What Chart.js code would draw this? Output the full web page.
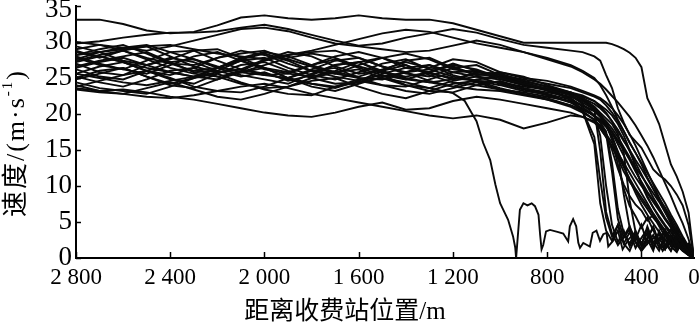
<!DOCTYPE html>
<html><head><meta charset="utf-8">
<script src="https://cdn.jsdelivr.net/npm/chart.js@4.4.1/dist/chart.umd.min.js"></script>
<style>html,body{margin:0;padding:0;background:#fff}</style>
</head><body>
<canvas id="c" width="700" height="327"></canvas>
<script>
// distance to toll station (axis units, m); the right end of the axis is labelled "0"
const dist = [2800,2700,2600,2500,2400,2300,2200,2100,2000,1900,1800,1700,1600,1500,1400,1300,1200,1100,1000,900,800,700,
              650,600,575,550,525,500,475,450,425,400,375,350,325,300,275,250,225,200,177];
const xTickPos = [2800,2400,2000,1600,1200,800,400,177];
const xTickLabels = ['2 800','2 400','2 000','1 600','1 200','800','400','0'];
const yTicks = [0,5,10,15,20,25,30,35];

// speed trajectories (m/s)
const T1 = [33.1,33.1,32.5,31.6,31.2,31.4,32.3,33.4,33.7,33.3,33.1,33.3,33.7,33.3,33.1,33.1,32.6,31.7,30.8,29.9,29.9,29.9,
            29.9,29.9,29.9,29.9,29.7,29.4,29.0,28.5,27.8,26.5,22.2,20.5,18.6,15.8,13.0,11.3,9.2,6.3,0];
const T2 = [29.8,30.1,30.6,31.0,31.3,31.3,31.5,32.0,32.4,31.8,31.0,30.2,29.5,29.8,30.6,31.2,31.8,31.3,30.4,29.6,29.2,28.8,
            28.6,28.0,27.4,25.4,23.6,20.8,18.8,17.1,16.2,15.3,13.8,12.3,11.5,10.9,10.0,8.8,7.3,4.6,0];
const T3 = [30.0,29.6,29.2,28.8,29.4,30.2,31.0,31.8,32.0,31.5,30.6,29.8,29.4,29.0,28.6,28.8,29.5,30.2,29.6,28.6,27.6,26.6,
            25.8,24.8,24.2,23.4,22.5,21.6,20.6,19.6,18.4,17.0,15.6,14.0,12.2,10.4,8.6,6.6,4.8,2.6,0];
const T4 = [28.2,28.6,29.0,29.4,29.6,29.0,28.4,28.0,27.6,28.2,28.8,29.6,30.4,31.2,31.7,31.4,30.6,29.8,29.2,28.6,27.8,26.8,
            26.0,25.0,24.0,22.6,21.0,19.2,17.6,16.0,14.6,13.2,11.8,10.4,9.0,7.6,6.0,4.6,3.0,1.6,0];
const B1 = [29.4,28.6,27.4,26.8,27.6,28.8,29.0,27.8,26.4,25.8,26.8,28.0,28.6,27.8,26.4,25.8,26.8,26.2,25.0,24.2,23.6,23.0,
            22.6,21.8,21.0,20.2,19.0,17.6,16.2,15.0,13.6,12.4,11.0,9.6,8.2,7.0,5.6,4.2,2.8,1.4,0];
const B2 = [28.8,27.8,28.8,29.4,28.0,26.6,25.8,26.2,27.6,28.6,28.0,26.6,25.6,26.0,27.4,27.8,26.4,25.4,25.6,24.4,23.4,22.6,
            21.4,19.8,17.0,10.0,4.6,2.2,3.8,1.6,3.2,2.0,3.6,1.4,2.8,1.2,3.0,1.0,2.2,0.6,0];
const B3 = [28.2,29.0,29.6,28.4,27.0,26.0,26.4,27.8,28.6,28.0,26.8,25.8,25.2,26.2,27.2,26.4,27.6,27.2,25.8,25.2,24.0,23.0,
            22.2,21.0,20.2,19.4,18.6,17.2,14.6,8.0,3.6,2.0,3.4,1.6,2.6,4.0,1.8,2.4,1.0,1.8,0];
const B4 = [27.8,26.8,26.2,27.4,28.6,28.8,27.4,26.2,25.4,25.0,26.2,27.4,27.8,26.6,25.6,25.2,26.4,26.8,25.4,24.6,23.8,22.6,
            21.8,20.8,20.0,18.8,17.4,15.8,14.2,12.6,11.2,10.0,9.0,7.8,6.6,5.4,4.4,3.2,2.0,1.0,0];
const B5 = [27.4,28.2,28.8,27.6,26.4,25.6,25.2,25.8,26.8,27.8,28.4,27.8,26.6,25.8,25.2,25.8,24.8,25.6,25.0,24.2,23.4,22.0,
            20.4,16.8,10.8,5.6,3.0,4.6,2.0,3.6,1.4,2.8,4.0,2.0,3.4,1.6,2.6,4.2,1.4,2.0,0];
const B6 = [27.0,25.8,25.4,26.8,27.8,27.2,26.0,25.2,25.8,24.6,25.4,26.8,27.2,26.0,25.0,24.4,24.8,25.8,25.6,24.6,23.8,22.8,
            22.0,21.0,20.0,18.6,16.4,13.0,9.6,7.2,5.8,4.2,5.6,3.8,2.4,3.6,2.0,1.2,2.4,1.0,0];
const B7 = [26.6,27.4,28.0,28.6,27.2,25.8,26.0,27.4,27.8,26.4,25.4,24.8,25.8,27.0,27.6,26.2,25.2,24.6,24.4,23.6,23.0,22.4,
            21.6,20.6,19.8,19.0,18.0,16.8,15.4,14.0,12.2,10.4,8.6,7.0,5.6,4.4,3.2,2.2,1.4,0.6,0];
const B8 = [26.2,25.2,24.8,26.0,27.2,27.6,26.4,25.4,24.8,24.2,25.6,26.8,27.2,25.8,24.8,24.4,23.8,24.8,25.2,24.4,23.4,22.2,
            20.4,15.8,7.6,3.8,2.4,4.6,2.0,1.0,3.0,1.8,4.4,2.2,1.0,3.2,1.6,0.8,2.6,1.2,0];
const B9 = [25.6,26.6,27.2,26.0,24.8,24.2,25.6,26.8,27.2,26.0,25.0,24.2,24.4,25.6,26.4,26.8,25.4,24.6,24.0,23.2,22.8,22.0,
            21.2,20.4,19.6,18.6,17.6,16.4,15.2,13.8,12.6,11.4,10.2,9.0,7.8,6.4,5.0,3.6,2.2,1.0,0];
const B10 = [25.2,24.4,23.8,24.8,26.0,26.4,25.2,24.2,23.6,23.8,25.0,25.8,26.2,25.0,24.0,23.6,24.6,25.2,24.2,23.4,22.6,21.6,
             20.8,19.8,18.8,17.2,15.0,12.4,10.2,8.6,7.4,6.6,5.2,6.0,4.4,3.0,4.0,2.4,1.2,0.6,0];
const B11 = [24.8,25.6,26.4,25.2,24.0,23.6,24.8,25.8,26.4,25.0,23.8,23.2,24.2,25.2,25.8,24.6,23.8,23.4,23.2,22.6,22.0,21.2,
             20.4,19.2,18.0,16.8,15.6,14.2,12.6,11.0,9.6,8.4,7.2,6.0,4.8,3.8,2.8,2.0,1.2,0.6,0];
const B12 = [24.4,23.6,23.2,22.8,23.8,25.0,25.6,24.4,23.4,22.8,22.6,23.8,24.8,25.4,24.0,23.2,23.0,24.0,24.6,23.6,22.8,21.6,
             20.6,19.8,19.0,18.2,17.0,14.6,8.8,4.2,2.6,4.6,2.0,3.2,1.4,2.6,1.0,3.0,1.6,0.8,0];
const B13 = [24.0,23.2,22.8,23.6,24.4,23.4,22.4,22.0,22.8,23.8,24.6,25.0,23.8,22.8,22.2,23.2,24.2,24.6,23.6,22.8,22.2,21.2,
             20.6,19.8,19.2,18.4,17.4,16.2,15.0,13.6,12.0,10.6,9.2,8.0,6.8,5.4,4.2,3.0,1.8,0.8,0];
const B14 = [23.6,23.2,23.4,23.0,22.4,22.0,21.4,20.8,20.2,19.8,19.6,20.2,21.0,21.6,20.6,20.8,21.8,22.4,22.0,21.4,20.8,20.2,
             19.6,18.8,18.0,16.8,15.4,13.8,12.0,10.6,9.4,8.0,6.8,5.6,4.6,3.6,2.6,1.8,1.0,0.4,0];
const B15 = [23.4,23.0,22.8,22.4,22.2,22.6,23.2,23.8,24.2,23.6,22.8,22.2,21.6,21.0,20.4,19.8,19.4,19.8,19.2,18.0,18.8,19.8,
             19.6,19.0,18.2,17.2,16.0,14.6,13.2,11.8,10.4,9.0,7.6,6.2,5.0,3.8,2.8,1.8,1.0,0.4,0];
const B16 = [28.6,28.0,27.2,26.4,25.8,25.2,24.8,26.0,27.4,28.2,28.6,28.8,27.8,26.6,25.8,26.2,26.6,25.4,25.8,25.0,24.6,23.8,
             23.2,22.6,22.2,21.6,20.8,19.8,18.6,17.2,15.6,13.8,12.0,10.2,8.4,6.8,5.2,3.8,2.4,1.2,0];
const B17 = [27.6,28.6,29.2,29.6,28.6,27.6,26.6,25.8,25.4,25.6,26.8,27.6,26.4,25.4,24.8,25.8,27.0,26.0,25.2,24.6,23.8,23.0,
             22.0,20.6,14.8,6.4,3.4,1.8,3.0,4.4,2.2,1.2,2.6,1.0,3.8,2.0,1.0,2.6,1.2,0.4,0];
const B18 = [25.0,26.0,26.4,25.2,24.2,25.0,26.4,27.4,26.4,25.0,24.2,23.6,24.6,26.0,26.8,25.4,24.4,24.0,23.4,23.0,22.4,21.8,
             21.2,20.4,19.6,18.4,16.8,14.8,12.8,10.8,9.0,7.4,6.0,4.8,3.6,2.6,1.8,3.2,1.8,0.8,0];
const B19 = [29.0,29.6,28.8,27.8,27.0,26.8,27.8,28.8,28.2,27.0,26.0,25.6,26.8,27.8,28.4,27.6,26.2,25.8,25.4,24.8,24.2,23.6,
             23.0,22.4,22.0,21.2,20.2,19.0,17.6,16.0,14.6,13.0,11.2,9.6,8.0,6.4,4.8,3.4,2.0,1.0,0];
const B20 = [26.4,27.2,27.8,26.8,25.8,25.2,26.4,27.6,28.4,27.4,26.0,25.2,24.6,24.0,23.8,24.8,25.8,26.0,25.0,24.2,23.2,22.2,
             21.0,19.6,18.8,17.6,13.2,6.8,3.4,2.0,3.8,1.6,2.8,4.2,2.0,1.2,2.4,1.0,2.2,0.8,0];
const B21 = [27.2,28.0,27.2,26.0,25.4,26.4,27.8,28.4,28.8,27.6,26.6,25.6,25.0,24.8,25.8,26.8,25.8,25.2,24.8,24.0,23.4,22.8,
             22.2,21.4,20.8,20.0,19.0,17.8,16.4,14.8,13.2,11.6,10.0,8.4,7.0,5.6,4.4,3.2,2.2,1.2,0];
const B22 = [23.8,24.6,25.4,26.0,25.0,23.8,23.2,23.0,23.8,25.0,26.0,26.4,25.0,24.0,23.2,22.8,23.6,24.4,23.4,22.8,22.0,21.0,
             20.2,19.2,18.4,17.2,12.0,5.4,2.8,4.0,2.2,1.0,2.6,4.4,2.0,1.2,3.0,1.6,2.8,1.0,0];
const B23 = [28.0,27.0,26.2,25.6,26.8,28.0,28.6,27.4,26.2,25.6,25.2,26.0,27.2,27.8,26.8,25.6,25.0,24.6,24.4,23.8,23.4,22.8,
             22.4,21.8,21.2,20.6,19.8,18.6,17.0,15.0,12.6,10.2,8.4,7.0,5.8,4.6,3.6,2.6,1.6,0.8,0];

// vehicle that stops early and then creeps in the queue (own distance points)
const Q1dist = [2800,2700,2600,2500,2400,2300,2200,2100,2000,1900,1800,1700,1600,1500,1400,1300,1200,1150,1120,1100,1072,1042,1020,1000,
                966,945,936,932,916,901,884,866,852,837,830,824,817,805,788,753,732,711,704,690,677,668,661,647,619,607,591,576,562,548,541,
                520,500,480,455,430,400,370,340,310,280,250,220,195,177];
const Q1speed = [25.6,25.0,24.4,24.0,24.6,25.2,25.8,26.2,25.6,24.8,24.2,23.8,24.4,25.0,24.4,23.6,22.9,21.8,20.1,19.0,16.0,13.6,10.2,7.6,
                 5.3,3.0,1.5,0,6.7,7.6,7.3,7.6,7.2,6.0,3.2,1.2,1.8,3.7,3.9,3.6,3.4,2.3,4.4,5.4,4.4,2.1,1.4,2.1,1.6,3.5,3.8,2.4,3.3,3.5,1.6,
                 2.4,3.8,1.2,2.6,3.4,1.0,2.2,3.0,1.0,2.4,1.4,2.6,0.8,0];

const gridSeries = [T1,T2,T3,T4,B1,B2,B3,B4,B5,B6,B7,B8,B9,B10,B11,B12,B13,B14,B15,B16,B17,B18,B19,B20,B21,B22,B23];

const datasets = gridSeries.map(s => ({ data: dist.map((d, i) => ({ x: d, y: s[i] })) }));
datasets.push({ data: Q1dist.map((d, i) => ({ x: d, y: Q1speed[i] })) });

const serif = "'Liberation Serif','Times New Roman','Noto Sans CJK SC',serif";

const decor = {
  id: 'decor',
  afterDraw(chart) {
    const { ctx, chartArea: a, scales: { x, y } } = chart;
    ctx.save();
    ctx.strokeStyle = '#000';
    ctx.lineWidth = 1.5;
    y.ticks.forEach(t => {
      const py = Math.round(y.getPixelForValue(t.value)) + 0.5;
      ctx.beginPath(); ctx.moveTo(a.left, py); ctx.lineTo(a.left + 5, py); ctx.stroke();
    });
    x.ticks.forEach((t, i) => {
      if (i === x.ticks.length - 1) return;
      const px = Math.round(x.getPixelForValue(t.value)) + 0.5;
      ctx.beginPath(); ctx.moveTo(px, a.bottom); ctx.lineTo(px, a.bottom - 6); ctx.stroke();
    });
    // axis titles
    ctx.fillStyle = '#000';
    ctx.font = '25px ' + serif;
    ctx.textAlign = 'center';
    ctx.textBaseline = 'middle';
    ctx.fillText('距离收费站位置/m', 345, 312);
    // y title, rotated, with superscript
    ctx.translate(17, 143);
    ctx.rotate(-Math.PI / 2);
    ctx.letterSpacing = '2px';
    const p1 = '速度/(m·s', p2 = '-1', p3 = ')';
    ctx.font = '26px ' + serif;
    const w1 = ctx.measureText(p1).width, w3 = ctx.measureText(p3).width;
    ctx.font = '15px ' + serif;
    const w2 = ctx.measureText(p2).width;
    const sx = -(w1 + w2 + w3) / 2;
    ctx.textAlign = 'left';
    ctx.font = '26px ' + serif;
    ctx.fillText(p1, sx, 0);
    ctx.font = '15px ' + serif;
    ctx.fillText(p2, sx + w1, -9);
    ctx.font = '26px ' + serif;
    ctx.fillText(p3, sx + w1 + w2, 0);
    ctx.restore();
  }
};

new Chart(document.getElementById('c'), {
  type: 'line',
  data: { datasets },
  options: {
    responsive: false,
    animation: false,
    layout: { padding: { top: 6, right: 6, left: 0, bottom: 0 } },
    plugins: { legend: { display: false }, tooltip: { enabled: false } },
    elements: { point: { radius: 0 }, line: { borderWidth: 1.9, borderColor: '#0a0a0a', tension: 0, fill: false } },
    scales: {
      x: {
        type: 'linear', reverse: true, min: 177, max: 2800,
        afterBuildTicks: s => { s.ticks = xTickPos.map(v => ({ value: v })); },
        afterFit: s => { s.height = 69; s.paddingLeft = 0; s.paddingRight = 0; },
        ticks: { autoSkip: false, maxRotation: 0, padding: 6, color: '#000', font: { family: serif, size: 23 },
                 callback: (v, i) => xTickLabels[i] },
        grid: { display: false, drawTicks: false },
        border: { color: '#000', width: 2 }
      },
      y: {
        min: 0, max: 35,
        afterBuildTicks: s => { s.ticks = yTicks.map(v => ({ value: v })); },
        afterFit: s => { s.width = 76; s.paddingTop = 0; s.paddingBottom = 0; },
        ticks: { padding: 4, color: '#000',
                 font: c => ({ family: serif, size: 27, lineHeight: (c.tick && c.tick.value === 35) ? '8px' : 1.2 }),
                 callback: v => v === 35 ? ['', '35'] : String(v) },
        grid: { display: false, drawTicks: false },
        border: { color: '#000', width: 2 }
      }
    }
  },
  plugins: [decor]
});
</script>
</body></html>
